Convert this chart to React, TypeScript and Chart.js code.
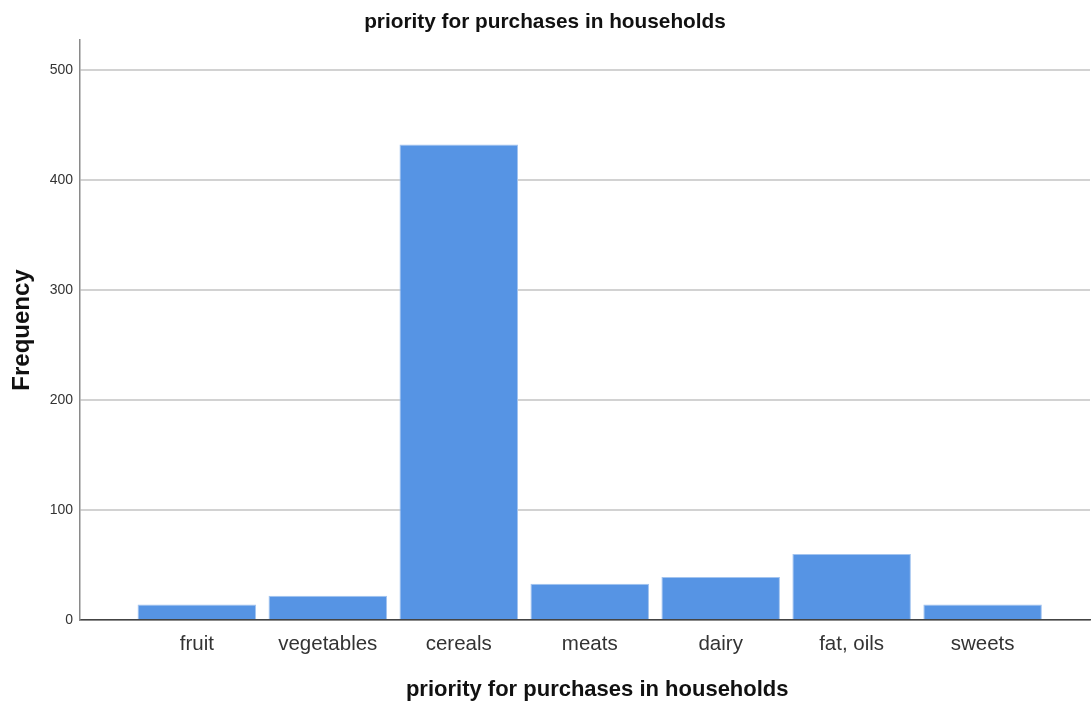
import React, { useEffect, useRef } from "react";
import { Chart, registerables } from "chart.js";

Chart.register(...registerables);

const categories: string[] = ["fruit", "vegetables", "cereals", "meats", "dairy", "fat, oils", "sweets"];
const frequencies: number[] = [14, 22, 432, 33, 39, 60, 14];
const yTickValues: number[] = [0, 100, 200, 300, 400, 500];
const chartTitle = "priority for purchases in households";
const xTitle = "priority for purchases in households";
const yTitle = "Frequency";

const FONT = "'Liberation Sans', Arial, Helvetica, sans-serif";

export default function App() {
  const ref = useRef<HTMLCanvasElement | null>(null);

  useEffect(() => {
    const canvas = ref.current;
    if (!canvas) return;
    const chart = new Chart(canvas, {
      type: "bar",
      data: {
        datasets: [
          {
            label: yTitle,
            data: categories.map((_, i) => ({ x: i, y: frequencies[i] })),
            backgroundColor: "#5694e4",
            borderColor: "#a3c4ef",
            borderWidth: 1,
            categoryPercentage: 1,
            barPercentage: 0.905,
          },
        ],
      },
      options: {
        responsive: false,
        animation: false,
        layout: { padding: { left: 0, right: 1, top: 0, bottom: 0 } },
        plugins: {
          legend: { display: false },
          tooltip: { enabled: false },
          title: {
            display: true,
            text: chartTitle,
            color: "#111",
            font: { family: FONT, size: 20.8, weight: "bold", lineHeight: 1.2 },
            padding: { top: 9.5, bottom: 5.5 },
          },
        },
        scales: {
          x: {
            type: "linear",
            offset: false,
            min: -0.892,
            max: 6.82,
            afterBuildTicks: (scale: any) => {
              scale.ticks = categories.map((_, i) => ({ value: i }));
            },
            afterFit: (scale: any) => {
              scale.height = 87;
            },
            ticks: {
              autoSkip: false,
              maxRotation: 0,
              minRotation: 0,
              padding: 12,
              color: "#333",
              font: { family: FONT, size: 20.5 },
              callback: (v: any) => categories[Math.round(Number(v))] ?? "",
            },
            grid: { drawOnChartArea: false, drawTicks: false, offset: false },
            border: { display: true, color: "#444", width: 1.5 },
            title: {
              display: true,
              text: "    " + xTitle,
              color: "#111",
              font: { family: FONT, size: 22, weight: "bold", lineHeight: 1.2 },
              padding: { top: 4, bottom: 4 },
            },
          },
          y: {
            type: "linear",
            min: 0,
            max: 527,
            afterBuildTicks: (scale: any) => {
              scale.ticks = yTickValues.map((v) => ({ value: v }));
            },
            afterFit: (scale: any) => {
              scale.width = 80;
            },
            ticks: {
              includeBounds: false,
              stepSize: 100,
              padding: 7,
              color: "#333",
              font: { family: FONT, size: 14 },
            },
            grid: { color: "#d2d2d2", lineWidth: 2, drawTicks: false },
            border: { display: true, color: "#8a8a8a", width: 1.5 },
            title: {
              display: true,
              text: yTitle,
              color: "#111",
              font: { family: FONT, size: 24, weight: "bold", lineHeight: 1.2 },
              padding: { top: 7.6, bottom: 4 },
            },
          },
        },
      },
    } as any);
    return () => chart.destroy();
  }, []);

  return (
    <canvas
      ref={ref}
      width={1091}
      height={707}
      style={{ position: "absolute", left: 0, top: 0, display: "block", width: 1091, height: 707 }}
    />
  );
}
